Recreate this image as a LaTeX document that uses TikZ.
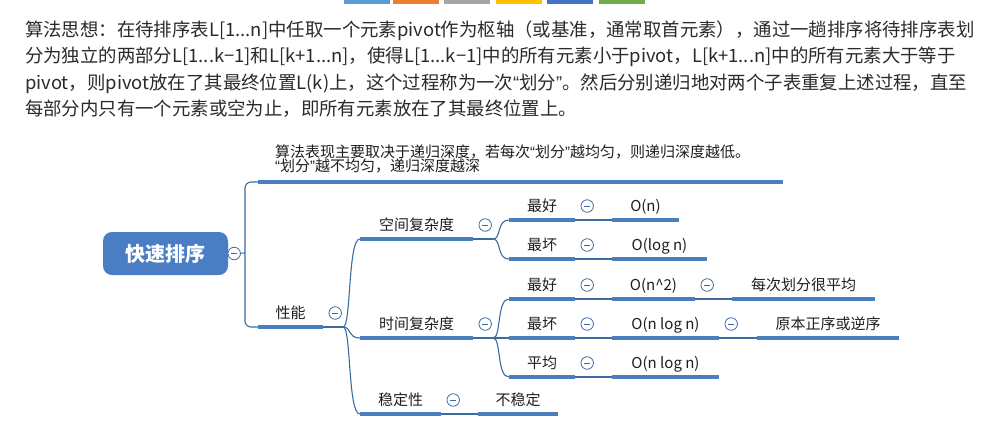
\documentclass[tikz,border=0pt]{standalone}
\usepackage{fontspec}
\setmainfont{Noto Sans CJK SC}
\newfontfamily\quotefont{Liberation Sans}
\newcommand\openq{{\quotefont “}}
\newcommand\closeq{{\quotefont ”}}
\usetikzlibrary{calc,positioning}

\definecolor{tabA}{HTML}{5B9BD5}
\definecolor{tabB}{HTML}{ED7D31}
\definecolor{tabC}{HTML}{A5A5A5}
\definecolor{tabD}{HTML}{FFC000}
\definecolor{tabE}{HTML}{4472C4}
\definecolor{tabF}{HTML}{70AD47}
\definecolor{mapblue}{HTML}{4A7EBE}
\definecolor{linkblue}{HTML}{3E6B9F}
\definecolor{rootblue}{HTML}{4A7DC4}
\definecolor{ink}{HTML}{1E1E1E}
\definecolor{parink}{HTML}{2A2A2A}

\begin{document}
\begin{tikzpicture}[x=1pt,y=-1pt,
    topic/.style={anchor=south,minimum width=#1,inner xsep=0pt,inner ysep=5pt,text height=11pt,text depth=3pt,text=ink,font=\fontsize{15}{15}\selectfont},
    uline/.style={draw=mapblue,line width=3.5pt},
    link/.style={draw=linkblue,line width=1.1pt},
    fold/.style={circle,draw=linkblue,fill=white,line width=.8pt,minimum size=12.5pt,inner sep=0pt,
      path picture={\draw[linkblue,line width=.8pt] ([xshift=-3pt]path picture bounding box.center) -- ([xshift=3pt]path picture bounding box.center);}},
    partext/.style={anchor=base west,inner sep=0pt,text=parink,font=\fontsize{18.4}{20}\selectfont}]

  \useasboundingbox (0,0) rectangle (989,424);

  %% colour tabs on the top edge
  \foreach \x/\c in {344/tabA,393/tabB,444/tabC,496/tabD,547/tabE,599/tabF}{
    \fill[\c] (\x,0) rectangle +(46,3.5);
  }

  %% the paragraph above the map
  \node[partext] (line1) at (25,36) {算法思想：在待排序表L[1...n]中任取一个元素pivot作为枢轴（或基准，通常取首元素），通过一趟排序将待排序表划};
  \node[partext] (line2) at (25,62) {分为独立的两部分L[1...k−1]和L[k+1...n]，使得L[1...k−1]中的所有元素小于pivot，L[k+1...n]中的所有元素大于等于};
  \node[partext] (line3) at (25,89) {pivot，则pivot放在了其最终位置L(k)上，这个过程称为一次\openq 划分\closeq 。然后分别递归地对两个子表重复上述过程，直至};
  \node[partext] (line4) at (25,115) {每部分内只有一个元素或空为止，即所有元素放在了其最终位置上。};

  %% root
  \node[fill=rootblue,rounded corners=9pt,minimum width=125pt,minimum height=43pt,text=white,font=\fontsize{20}{20}\selectfont\bfseries] (root) at (165.5,253.5) {快速排序};
  \node[fold] (rootF) at ([xshift=6pt]root.east) {};

  %% first level
  \node[anchor=south west,text width=491pt,inner xsep=17pt,inner ysep=3pt,text depth=21.5pt,align=left,text=ink,font=\fontsize{15}{14.5}\selectfont] (note) at (258,182)
    {算法表现主要取决于递归深度，若每次\openq 划分\closeq 越均匀，则递归深度越低。\\\openq 划分\closeq 越不均匀，递归深度越深};
  \node[topic=65pt] (perf) at (290.5,327) {性能};
  \coordinate (hub) at (245,253);

  %% second level
  \node[topic=113pt] (space) at (416.5,239) {空间复杂度};
  \node[topic=113pt] (time) at (416.5,338) {时间复杂度};
  \node[topic=81pt] (stab) at (400.5,414) {稳定性};
  \node[topic=80pt] (unstab) at (518,414) {不稳定};

  %% third level
  \node[topic=66pt] (sBest) at (542,220) {最好};
  \node[topic=66pt] (sWorst) at (542,259) {最坏};
  \node[topic=66pt] (tBest) at (542,299) {最好};
  \node[topic=66pt] (tWorst) at (542,338) {最坏};
  \node[topic=66pt] (tAvg) at (542,377) {平均};

  %% values
  \node[topic=67pt] (sBestV) at (645.5,220) {O(n)};
  \node[topic=95pt] (sWorstV) at (659.5,259) {O(log n)};
  \node[topic=83pt] (tBestV) at (653.5,299) {O(n\^{}2)};
  \node[topic=107pt] (tWorstV) at (665.5,338) {O(n log n)};
  \node[topic=107pt] (tAvgV) at (665.5,377) {O(n log n)};
  \node[topic=143pt] (tBestN) at (803.5,299) {每次划分很平均};
  \node[topic=142pt] (tWorstN) at (828,338) {原本正序或逆序};

  %% underlines
  \foreach \n in {note,perf,space,time,stab,unstab,sBest,sWorst,tBest,tWorst,tAvg,sBestV,sWorstV,tBestV,tWorstV,tAvgV,tBestN,tWorstN}{
    \draw[uline] (\n.south west) -- (\n.south east);
  }

  %% connectors
  \draw[link] (rootF) -- (hub);
  \draw[link,rounded corners=6pt] (note.south west) -| (hub) |- (perf.south west);

  \coordinate (perfO) at ([xshift=20pt]perf.south east);
  \coordinate (spaceO) at ([xshift=20pt]space.south east);
  \coordinate (timeO) at ([xshift=20pt]time.south east);
  \draw[link] (perf.south east) -- (perfO);
  \draw[link] (space.south east) -- (spaceO);
  \draw[link] (time.south east) -- (timeO);
  \foreach \o/\t in {perfO/space,perfO/time,perfO/stab,spaceO/sBest,spaceO/sWorst,timeO/tBest,timeO/tWorst,timeO/tAvg}{
    \draw[link] (\o) .. controls +(8,0) and +(-12,0) .. (\t.south west);
  }
  \foreach \a/\b in {stab/unstab,sBest/sBestV,sWorst/sWorstV,tBest/tBestV,tWorst/tWorstV,tAvg/tAvgV,tBestV/tBestN,tWorstV/tWorstN}{
    \draw[link] (\a.south east) -- (\b.south west);
  }

  %% fold marks
  \foreach \n in {perf,space,time,stab,sBest,sWorst,tBest,tWorst,tAvg,tBestV,tWorstV}{
    \node[fold] (\n F) at ([xshift=12pt,yshift=14pt]\n.south east) {};
  }

\end{tikzpicture}
\end{document}
